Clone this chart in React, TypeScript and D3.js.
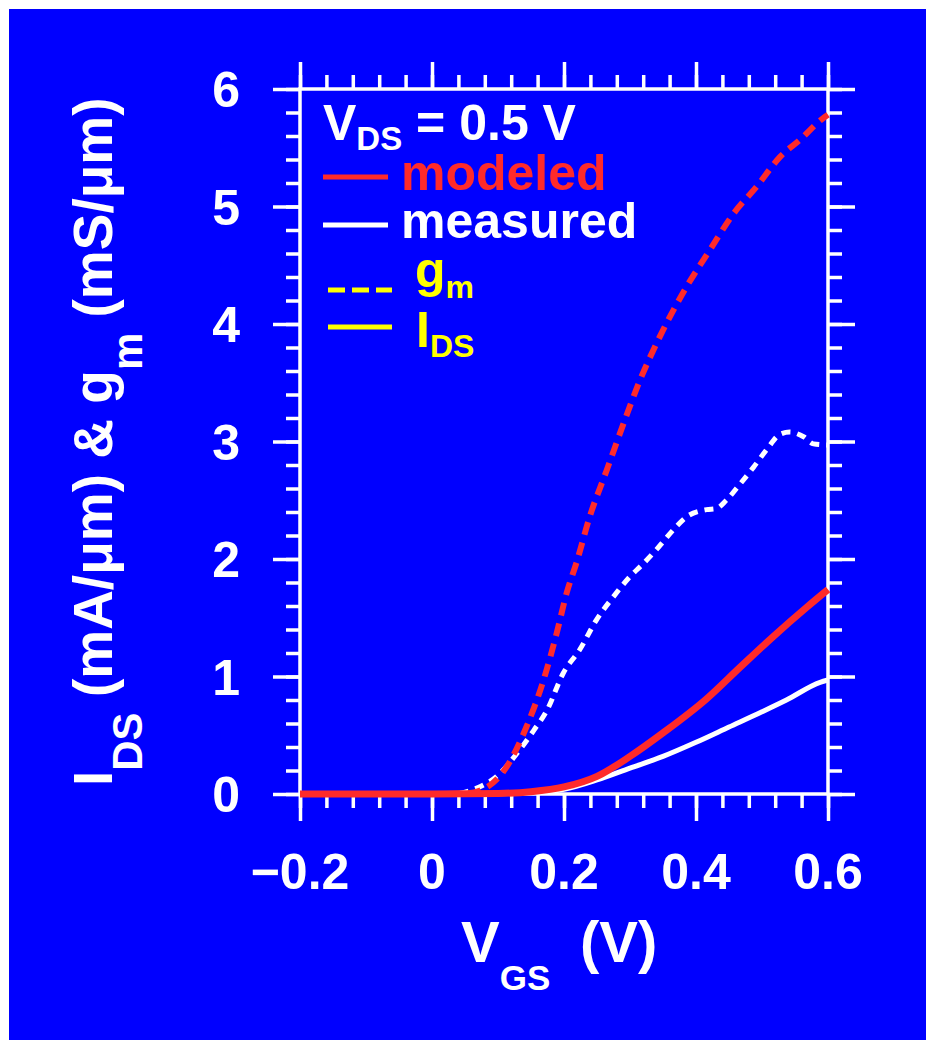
import React, { useEffect, useRef } from "react";
import * as d3 from "d3";

// tick labels
const xTicks = [-0.2, 0, 0.2, 0.4, 0.6];
const yTicks = [0, 1, 2, 3, 4, 5, 6];

// gm modeled (red dashed), mS/um
const gmModV = [-0.2, 0.0, 0.05, 0.073, 0.113, 0.143, 0.169, 0.189, 0.204, 0.219, 0.239, 0.265, 0.29, 0.315, 0.345, 0.386, 0.421, 0.457, 0.492, 0.527, 0.558, 0.59, 0.6];
const gmMod = [0, 0, 0.005, 0.03, 0.23, 0.57, 0.97, 1.37, 1.71, 1.97, 2.36, 2.76, 3.15, 3.52, 3.89, 4.32, 4.63, 4.94, 5.17, 5.42, 5.57, 5.74, 5.78];

// gm measured (white dashed)
const gmMeasV = [-0.2, 0.03, 0.068, 0.098, 0.128, 0.154, 0.174, 0.199, 0.224, 0.249, 0.275, 0.3, 0.32, 0.34, 0.366, 0.386, 0.416, 0.431, 0.446, 0.467, 0.487, 0.507, 0.527, 0.542, 0.563, 0.578, 0.6];
const gmMeas = [0, 0, 0.05, 0.15, 0.34, 0.54, 0.71, 1.03, 1.23, 1.48, 1.68, 1.85, 1.96, 2.08, 2.25, 2.36, 2.42, 2.43, 2.5, 2.64, 2.78, 2.93, 3.06, 3.08, 3.04, 2.98, 2.97];

// IDS modeled (red solid), mA/um
const idModV = [-0.2, 0.0, 0.1, 0.15, 0.2, 0.25, 0.3, 0.35, 0.416, 0.467, 0.517, 0.568, 0.6];
const idMod = [0, 0, 0.005, 0.02, 0.06, 0.15, 0.32, 0.52, 0.81, 1.08, 1.34, 1.59, 1.74];

// IDS measured (white solid)
const idMeasV = [-0.2, 0.0, 0.1, 0.15, 0.2, 0.25, 0.3, 0.35, 0.4, 0.45, 0.5, 0.537, 0.588, 0.6];
const idMeas = [0, 0, 0.003, 0.01, 0.04, 0.12, 0.22, 0.32, 0.44, 0.57, 0.7, 0.8, 0.95, 0.97];

const RED = "#ff2a2a";
const YELLOW = "#ffff00";
const BLUE = "#0000ff";
const FONT = "'Liberation Sans', Arial, Helvetica, sans-serif";

const App = () => {
  const ref = useRef<SVGSVGElement>(null);

  useEffect(() => {
    const width = 926;
    const height = 1040;
    const x = d3.scaleLinear([-0.2, 0.6], [300, 828]);
    const y = d3.scaleLinear([0, 6], [794, 89]);

    const svg = d3.select(ref.current);
    svg.selectAll("*").remove();
    svg.attr("width", width).attr("height", height).attr("viewBox", [0, 0, width, height]);

    svg.append("rect").attr("width", width).attr("height", height).attr("fill", "#fff");
    svg.append("rect").attr("x", 9).attr("y", 9).attr("width", width - 9).attr("height", height - 9).attr("fill", BLUE);

    const xMinor = d3.range(0, 21).map((i) => -0.2 + i * 0.04);
    const yMinor = d3.range(0, 31).map((i) => i * 0.2);

    const styleAxis = (g) => {
      g.select(".domain").remove();
      g.selectAll("text").remove();
      g.selectAll(".tick line").attr("stroke", "#fff").attr("stroke-width", 3.5);
    };

    const addAxis = (axis, tf) =>
      svg.append("g").attr("transform", tf).call(axis).call(styleAxis);

    // minor + major ticks on all four sides, all pointing outwards
    addAxis(d3.axisBottom(x).tickValues(xMinor).tickSize(14).tickFormat(() => ""), `translate(0,${y(0)})`);
    addAxis(d3.axisBottom(x).tickValues(xTicks).tickSize(27).tickFormat(() => ""), `translate(0,${y(0)})`);
    addAxis(d3.axisTop(x).tickValues(xMinor).tickSize(14).tickFormat(() => ""), `translate(0,${y(6)})`);
    addAxis(d3.axisTop(x).tickValues(xTicks).tickSize(27).tickFormat(() => ""), `translate(0,${y(6)})`);
    addAxis(d3.axisLeft(y).tickValues(yMinor).tickSize(14).tickFormat(() => ""), `translate(${x(-0.2)},0)`);
    addAxis(d3.axisLeft(y).tickValues(yTicks).tickSize(27).tickFormat(() => ""), `translate(${x(-0.2)},0)`);
    addAxis(d3.axisRight(y).tickValues(yMinor).tickSize(14).tickFormat(() => ""), `translate(${x(0.6)},0)`);
    addAxis(d3.axisRight(y).tickValues(yTicks).tickSize(27).tickFormat(() => ""), `translate(${x(0.6)},0)`);

    svg
      .append("rect")
      .attr("x", x(-0.2))
      .attr("y", y(6))
      .attr("width", x(0.6) - x(-0.2))
      .attr("height", y(0) - y(6))
      .attr("fill", "none")
      .attr("stroke", "#fff")
      .attr("stroke-width", 3.5);

    // tick labels
    const fmt = d3.format("");
    svg
      .append("g")
      .selectAll("text")
      .data(xTicks)
      .join("text")
      .attr("x", (d) => x(d))
      .attr("y", 889)
      .attr("text-anchor", "middle")
      .attr("fill", "#fff")
      .attr("font-family", FONT)
      .attr("font-weight", "bold")
      .attr("font-size", 50)
      .text((d) => fmt(d));

    svg
      .append("g")
      .selectAll("text")
      .data(yTicks)
      .join("text")
      .attr("x", 240)
      .attr("y", (d) => y(d) + 18)
      .attr("text-anchor", "end")
      .attr("fill", "#fff")
      .attr("font-family", FONT)
      .attr("font-weight", "bold")
      .attr("font-size", 50)
      .text((d) => fmt(d));

    // curves
    const line = (V) =>
      d3
        .line<number>()
        .x((d, i) => x(V[i]))
        .y((d) => y(d))
        .curve(d3.curveMonotoneX);

    const plot = svg.append("g").attr("fill", "none");
    plot.append("path").attr("d", line(gmMeasV)(gmMeas)).attr("stroke", "#fff").attr("stroke-width", 5).attr("stroke-dasharray", "9,7");
    plot.append("path").attr("d", line(gmModV)(gmMod)).attr("stroke", RED).attr("stroke-width", 6).attr("stroke-dasharray", "13,8");
    plot.append("path").attr("d", line(idMeasV)(idMeas)).attr("stroke", "#fff").attr("stroke-width", 5);
    plot.append("path").attr("d", line(idModV)(idMod)).attr("stroke", RED).attr("stroke-width", 7);

    // legend
    const lg = svg.append("g").attr("font-family", FONT).attr("font-weight", "bold");
    const vds = lg.append("text").attr("x", 323).attr("y", 140).attr("fill", "#fff").attr("font-size", 50);
    vds.append("tspan").text("V");
    vds.append("tspan").attr("font-size", 33).attr("dy", 10).text("DS");
    vds.append("tspan").attr("dy", -10).text(" = 0.5 V");

    lg.append("line").attr("x1", 323).attr("x2", 388).attr("y1", 177).attr("y2", 177).attr("stroke", RED).attr("stroke-width", 5);
    lg.append("text").attr("x", 401).attr("y", 190).attr("fill", RED).attr("font-size", 50).text("modeled");
    lg.append("line").attr("x1", 323).attr("x2", 388).attr("y1", 225).attr("y2", 225).attr("stroke", "#fff").attr("stroke-width", 5);
    lg.append("text").attr("x", 401).attr("y", 238).attr("fill", "#fff").attr("font-size", 50).text("measured");

    lg.append("line").attr("x1", 328).attr("x2", 392).attr("y1", 290).attr("y2", 290).attr("stroke", YELLOW).attr("stroke-width", 5).attr("stroke-dasharray", "17,7");
    const gm = lg.append("text").attr("x", 415).attr("y", 287).attr("fill", YELLOW).attr("font-size", 50);
    gm.append("tspan").text("g");
    gm.append("tspan").attr("font-size", 32).attr("dy", 11).text("m");
    lg.append("line").attr("x1", 328).attr("x2", 392).attr("y1", 327).attr("y2", 327).attr("stroke", YELLOW).attr("stroke-width", 5);
    const ids = lg.append("text").attr("x", 416).attr("y", 347).attr("fill", YELLOW).attr("font-size", 50);
    ids.append("tspan").text("I");
    ids.append("tspan").attr("font-size", 32).attr("dy", 10).text("DS");

    // axis titles
    const xt = svg.append("text").attr("x", 461).attr("y", 962).attr("fill", "#fff").attr("font-family", FONT).attr("font-weight", "bold").attr("font-size", 58);
    xt.append("tspan").text("V");
    xt.append("tspan").attr("font-size", 35).attr("dy", 28).text("GS");
    xt.append("tspan").attr("x", 580).attr("dy", -28).text("(V)");

    const yt = svg
      .append("text")
      .attr("transform", "translate(112,786) rotate(-90)")
      .attr("fill", "#fff")
      .attr("font-family", FONT)
      .attr("font-weight", "bold")
      .attr("font-size", 55);
    yt.append("tspan").text("I");
    yt.append("tspan").attr("font-size", 42).attr("dy", 30).text("DS");
    yt.append("tspan").attr("dy", -30).text(" (mA/\u03bcm) & g");
    yt.append("tspan").attr("font-size", 42).attr("dy", 30).text("m");
    yt.append("tspan").attr("dy", -30).text(" (mS/\u03bcm)");
  }, []);

  return <svg ref={ref} style={{ position: "absolute", left: 0, top: 0 }}></svg>;
};

export default App;
